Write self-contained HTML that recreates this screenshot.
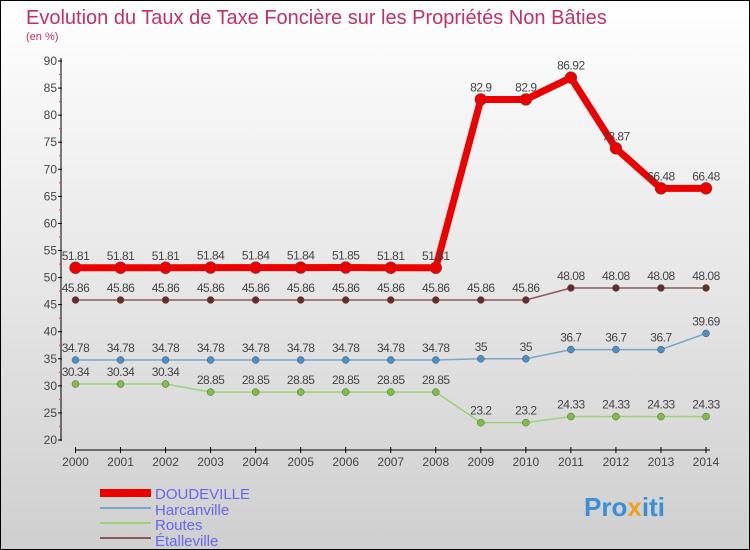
<!DOCTYPE html>
<html><head><meta charset="utf-8"><style>
body{margin:0}
#c{position:relative;width:748px;height:548px;border:1px solid #000;background:linear-gradient(#ffffff,#cfcfcf);font-family:"Liberation Sans",sans-serif;overflow:hidden}
</style></head><body>
<div id="c">
<svg width="748" height="548" viewBox="1 1 748 548" style="position:absolute;left:0;top:0" id="svg">
<text x="26" y="24" font-size="20" fill="#c8305e">Evolution du Taux de Taxe Foncière sur les Propriétés Non Bâties</text>
<text x="26" y="40" font-size="11" fill="#c8305e">(en %)</text>
<g id="axes"></g>
<g id="series"></g>
<g>
<rect x="100" y="489" width="51" height="8" fill="#e00"/>
<text x="155" y="499" font-size="15" fill="#6666ee">DOUDEVILLE</text>
<rect x="100" y="507" width="51" height="2" fill="#7aa6c8"/>
<text x="155" y="515" font-size="15" fill="#6666ee">Harcanville</text>
<rect x="100" y="522" width="51" height="2" fill="#9ed07a"/>
<text x="155" y="530" font-size="15" fill="#6666ee">Routes</text>
<rect x="100" y="537" width="51" height="2" fill="#8a5a5a"/>
<text x="155" y="546" font-size="15" fill="#6666ee">Étalleville</text>
</g>
<text x="584" y="516" font-size="26" font-weight="bold" fill="#3a8fd8">Pro<tspan fill="#f0a020">x</tspan>iti</text>
</svg>
</div>
<script>
const years=[2000,2001,2002,2003,2004,2005,2006,2007,2008,2009,2010,2011,2012,2013,2014];
const yTicks=[20,25,30,35,40,45,50,55,60,65,70,75,80,85,90];
const doudeville=[51.81,51.81,51.81,51.84,51.84,51.84,51.85,51.81,51.81,82.9,82.9,86.92,73.87,66.48,66.48];
const doudevilleLabels=["51.81","51.81","51.81","51.84","51.84","51.84","51.85","51.81","51.81","82.9","82.9","86.92","73.87","66.48","66.48"];
const harcanville=[34.78,34.78,34.78,34.78,34.78,34.78,34.78,34.78,34.78,35,35,36.7,36.7,36.7,39.69];
const harcanvilleLabels=["34.78","34.78","34.78","34.78","34.78","34.78","34.78","34.78","34.78","35","35","36.7","36.7","36.7","39.69"];
const routes=[30.34,30.34,30.34,28.85,28.85,28.85,28.85,28.85,28.85,23.2,23.2,24.33,24.33,24.33,24.33];
const routesLabels=["30.34","30.34","30.34","28.85","28.85","28.85","28.85","28.85","28.85","23.2","23.2","24.33","24.33","24.33","24.33"];
const etalleville=[45.86,45.86,45.86,45.86,45.86,45.86,45.86,45.86,45.86,45.86,45.86,48.08,48.08,48.08,48.08];
const etallevilleLabels=["45.86","45.86","45.86","45.86","45.86","45.86","45.86","45.86","45.86","45.86","45.86","48.08","48.08","48.08","48.08"];
const NS="http://www.w3.org/2000/svg";
const X=i=>75.5+i*(706-75.5)/(years.length-1);
const Y=v=>440-(v-20)*(440-61)/70;
function mk(tag,attrs,parent){const e=document.createElementNS(NS,tag);for(const k in attrs)e.setAttribute(k,attrs[k]);parent.appendChild(e);return e;}
const ax=document.getElementById('axes');
let yl=mk('line',{x1:61,y1:58,x2:61,y2:441,stroke:'#000','stroke-width':1},ax);


yTicks.forEach(t=>{
 mk('line',{x1:58,x2:62,y1:Y(t),y2:Y(t),stroke:'#000'},ax);
 if(t<90)mk('line',{x1:59,x2:61,y1:Y(t+2.5),y2:Y(t+2.5),stroke:'#f33'},ax);
 const tx=mk('text',{x:57,y:Y(t)+4,'font-size':12,fill:'#444','text-anchor':'end'},ax);tx.textContent=t;
 
 
});
let xl=mk('line',{x1:75,y1:450,x2:710,y2:450,stroke:'#000'},ax);


years.forEach((y,i)=>{
 mk('line',{x1:X(i),x2:X(i),y1:447,y2:453,stroke:'#000'},ax);
 const tx=mk('text',{x:X(i),y:466,'font-size':12,fill:'#444','text-anchor':'middle'},ax);tx.textContent=y;
 
 
});
const sg=document.getElementById('series');
function series(name,vals,labels,color,w,r,fill){
 const g=mk('g',{},sg);
 
 
 const pl=mk('polyline',{points:vals.map((v,i)=>X(i)+','+Y(v)).join(' '),fill:'none',stroke:color,'stroke-width':w,'stroke-linejoin':'round'},g);
 
 
 vals.forEach((v,i)=>{
  const c=mk('circle',{cx:X(i),cy:Y(v),r:r,fill:fill,stroke:'#555','stroke-width':0.5},g);
  
  
  const t=mk('text',{x:X(i),y:Y(v)-8,'font-size':12,fill:'#444','text-anchor':'middle','letter-spacing':'-0.5'},g);t.textContent=labels[i];
  
  
 });
}
series('routes',routes,routesLabels,'#9ed07a',1.5,3.5,'#7cc040');
series('harcanville',harcanville,harcanvilleLabels,'#7aa6c8',1.5,3.5,'#4a90c8');
series('etalleville',etalleville,etallevilleLabels,'#8a5a5a',1.5,3.5,'#6a2a2a');
series('doudeville',doudeville,doudevilleLabels,'#ee0000',7,6,'#ee0000');
</script>
</body></html>
